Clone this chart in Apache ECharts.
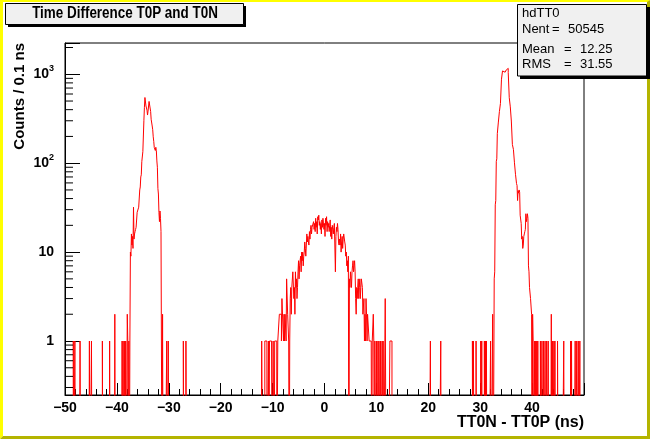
<!DOCTYPE html>
<html><head><meta charset="utf-8">
<script src="https://cdn.jsdelivr.net/npm/echarts@6/dist/echarts.min.js"></script>
<style>html,body{margin:0;padding:0;background:#fff}#c{width:650px;height:439px}</style>
</head><body><div id="c"></div>
<script>
// ---- data (bin width 0.1 ns, range -50..50) ----
const X_MIN = -50, X_MAX = 50, BIN = 0.1;
const leftPeakStart = -37.4;
const leftPeak = [10,9,16,12,15,11,32,14,16,17, 18,19,20,28,27,29,32,33,50,54,
  70,74,104,108,135,140,300,425,548,552, 440,418,395,348,385,378,495,512,478,382,
  312,298,262,238,198,176,150,146,139,151, 138,106,90,52,45,28,22,29,24,17, 17];
const centerStart = -12.2;
const center = [
  0,1,1,0,0,0,0,1,1,1,   1,0,0,0,1,0,1,1,1,1,   1,0,0,1,1,0,1,1,1,1,
  0,0,1,1,1,2,2,2,2,1,   3,3,3,1,2,1,2,2,1,5,   5,2,2,1,0,1,3,4,2,4,
  4,6,6,3,4,2,6,4,5,3,   4,6,8,5,7,8,9,6,10,8,  10,7,9,10,13,11,9,12,16,13,
  15,13,12,17,14,18,20,16,19,20,  20,22,18,21,17,24,19,22,16,25,  23,26,20,22,18,21,16,23,19,24,
  25,18,21,15,24,20,25,17,22,19,  21,17,20,23,15,19,14,20,18,16,  19,21,20,6,15,19,17,21,18,13,
  12,14,12,16,10,13,15,11,14,16,  16,13,12,9,10,7,8,6,9,0,  5,4,6,5,4,6,7,8,6,7,
  8,6,3,2,4,3,4,5,3,4,   5,3,4,5,5,4,2,2,3,1,   2,1,3,2,1,2,2,2,1,1,
  1,1,1,0,1,1,2,1,0,1,   1,0,1,1,0,1,0,1,1,0,   1,1,0,1,0,1,0,0,0,3,
  3,0,0,0,0,0,0,0,1,1,   1,1];
const rightPeakStart = 32.7;
const rightPeak = [5,6,34,38,105,112,215,226,290,298, 380,392,470,488,880,915,1090,1035,1048,1062,
  1055,1105,1115,1138,1150,1172,1165,1045,1030,545, 535,430,418,298,290,162,158,143,138,101,
  98,75,72,59,56,38,49,46,50,47, 26,25,21,14,15,11,12,15,16,17, 18,27,22,24,27,24,7,6,4,4, 3,3];
const singleX = [-48.4,-48.1,-47.1,-45.3,-44.9,-42.8,-41.4,-40.4,-39.0,-38.8,-38.5,-38.3,-38.0,-37.9,-37.7,-37.5,
  -31.2,-30.4,-30.1,-27.2,-26.7,
  20.4,22.4,28.5,28.7,29.2,30.1,30.3,30.8,31.0,31.2,32.0,32.4,
  39.9,40.1,40.2,40.5,40.7,40.9,41.1,41.6,41.9,42.2,42.5,42.8,43.1,43.7,43.9,44.2,44.4,44.9,46.1,47.4,47.6,48.3,48.6,48.9,49.2];
const singleN = [1,1,1,1,1,1,1,2,1,1,1,1,2,1,1,1,
  2,1,1,1,1,
  1,1,1,1,1,1,1,1,1,1,1,2,
  2,2,1,1,1,1,1,1,1,1,1,1,1,2,1,1,1,1,1,1,1,1,1,1,1];
const yMinorTicks = [0.3,0.4,0.5,0.6,0.7,0.8,0.9, 2,3,4,5,6,7,8,9, 20,30,40,50,60,70,80,90,
  200,300,400,500,600,700,800,900, 2000];
const titleText = 'Time Difference T0P and T0N';
const xTitle = 'TT0N - TT0P (ns)';
const yTitle = 'Counts / 0.1 ns';
const statsName = 'hdTT0';
const statsRows = [['Nent', '=', '50545'], ['Mean', '=', '12.25'], ['RMS', '=', '31.55']];

// ---- build histogram outline ----
const NBINS = Math.round((X_MAX - X_MIN) / BIN);
const counts = new Array(NBINS).fill(0);
function idx(x){ return Math.round((x - X_MIN) / BIN); }
function fillRun(start, vals){ const i0 = idx(start); vals.forEach((v,k)=>{ counts[i0+k] = v; }); }
singleX.forEach((x,i)=>{ counts[idx(x)] = singleN[i]; });
fillRun(leftPeakStart, leftPeak);
fillRun(centerStart, center);
fillRun(rightPeakStart, rightPeak);
const FLOOR = 0.01; // empty bins drawn below the axis minimum (clipped)
const histData = [];
for (let i = 0; i < NBINS; i++) histData.push([+(X_MIN + i*BIN).toFixed(1), counts[i] > 0 ? counts[i] : FLOOR]);
histData.push([X_MAX, FLOOR]);

const chart = echarts.init(document.getElementById('c'), null, {renderer:'canvas'});
const FF = 'Liberation Sans, Arial, sans-serif';
const graphics = [
  // canvas bevel
  {type:'polygon', shape:{points:[[0,0],[650,0],[648,2],[3,2],[3,436],[0,439]]}, style:{fill:'#ffff00'}, z:100, silent:true},
  {type:'polygon', shape:{points:[[650,0],[650,439],[0,439],[3,436],[647,436],[647,2]]}, style:{fill:'#b4b400'}, z:100, silent:true},
  // title pave
  {type:'rect', shape:{x:8, y:6, width:238, height:21}, style:{fill:'#000'}, z:101, silent:true},
  {type:'rect', shape:{x:5.5, y:3.5, width:238, height:21}, style:{fill:'#f0f0f0', stroke:'#000', lineWidth:1}, z:102, silent:true},
  {type:'text', x:125, y:14, scaleX:0.84, style:{text:titleText, font:'bold 16px '+FF, fill:'#000', align:'center', verticalAlign:'middle'}, z:103, silent:true},
  // stats box
  {type:'rect', shape:{x:520, y:7, width:130, height:72}, style:{fill:'#000'}, z:101, silent:true},
  {type:'rect', shape:{x:517.5, y:4.5, width:129, height:71.5}, style:{fill:'#f0f0f0', stroke:'#000', lineWidth:1}, z:102, silent:true},
  {type:'text', x:522, y:13.5, style:{text:statsName, font:'13px '+FF, fill:'#000', align:'left', verticalAlign:'middle'}, z:103, silent:true},
  // axis titles
  {type:'text', x:584, y:423, style:{text:xTitle, font:'bold 16px '+FF, fill:'#000', align:'right', verticalAlign:'middle'}, z:103, silent:true},
  {type:'text', x:20, y:43, rotation:Math.PI/2, style:{text:yTitle, font:'bold 15px '+FF, fill:'#000', align:'right', verticalAlign:'middle'}, z:103, silent:true}
];
const rowY = [29.5, 49, 64.5];
const colX = [[522,552,568],[522,564,580],[522,564,580]];
statsRows.forEach((r,i)=>{
  r.forEach((t,j)=>{
    graphics.push({type:'text', x:colX[i][j], y:rowY[i], style:{text:t, font:'13px '+FF, fill:'#000', align:'left', verticalAlign:'middle'}, z:103, silent:true});
  });
});

chart.setOption({
  animation:false,
  backgroundColor:'#fff',
  grid:{left:65, right:66, top:43, bottom:44, show:true, borderColor:'#000', borderWidth:1, backgroundColor:'#fff'},
  xAxis:{type:'value', min:X_MIN, max:X_MAX, interval:10,
    axisLine:{show:true, onZero:false, lineStyle:{color:'#000', width:1}},
    axisTick:{show:true, inside:true, length:12, lineStyle:{color:'#000'}},
    minorTick:{show:true, splitNumber:5, length:6, lineStyle:{color:'#000'}},
    splitLine:{show:false},
    axisLabel:{show:true, margin:6, color:'#000', fontFamily:FF, fontSize:14, fontWeight:'bold',
      showMaxLabel:false,
      formatter:v => v >= X_MAX ? '' : String(v).replace('-', '\u2212')}
  },
  yAxis:{type:'log', logBase:10, min:0.247, max:2248,
    axisLine:{show:true, onZero:false, lineStyle:{color:'#000', width:1}},
    axisTick:{show:true, inside:true, length:15, lineStyle:{color:'#000'}},
    splitLine:{show:false},
    axisLabel:{show:true, margin:11, color:'#000', fontFamily:FF, fontSize:14, fontWeight:'bold',
      formatter:v => {
        const l = Math.log10(v), e = Math.round(l);
        if (Math.abs(l - e) > 1e-6) return '';
        if (e === 0) return '1';
        if (e === 1) return '10';
        return '{b|10}{s|' + e + '}';
      },
      rich:{b:{fontFamily:FF, fontSize:14, fontWeight:'bold', color:'#000'},
            s:{fontFamily:FF, fontSize:9, fontWeight:'bold', color:'#000', padding:[0,0,11,0]}}
    }
  },
  series:[
    {type:'line', data:histData, step:'end', showSymbol:false, symbol:'none', clip:true,
      lineStyle:{color:'#ff0000', width:1}, silent:true, sampling:null, z:3},
    {type:'custom', data:yMinorTicks.map(v=>[X_MIN, v]), clip:true, silent:true, z:4,
      renderItem:(params, api) => {
        const p = api.coord([api.value(0), api.value(1)]);
        return {type:'line', shape:{x1:p[0], y1:p[1], x2:p[0]+8, y2:p[1]}, style:{stroke:'#000', lineWidth:1}};
      }}
  ],
  graphic:{elements:graphics}
});
</script>
</body></html>
